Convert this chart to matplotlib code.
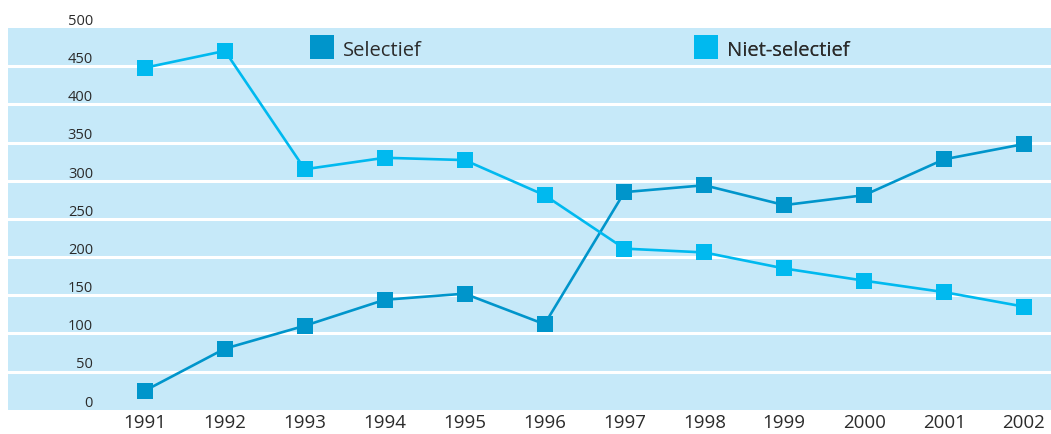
import matplotlib
matplotlib.use("Agg")
import matplotlib.pyplot as plt
from matplotlib.lines import Line2D

years = list(range(1991, 2003))
selectief = [25, 80, 110, 144, 152, 112, 285, 294, 268, 281, 328, 348]
niet_selectief = [448, 470, 315, 330, 327, 281, 211, 206, 185, 169, 154, 135]
y_ticks = [0, 50, 100, 150, 200, 250, 300, 350, 400, 450, 500]
series_names = ["Selectief", "Niet-selectief"]

BAND = "#c6e9f9"
DARK = "#0095cb"
LIGHT = "#00b9ef"
TEXT = "#2b2b2b"

plt.rcParams["font.family"] = ["Open Sans", "DejaVu Sans"]

W, H = 1051, 435
TOP, BOT = 29, 410.7
fig = plt.figure(figsize=(W / 100, H / 100), dpi=100)
ax = fig.add_axes([8 / W, (H - BOT) / H, (W - 8) / W, (BOT - TOP) / H])
ax.set_facecolor(BAND)
for s in ax.spines.values():
    s.set_visible(False)
ax.set_ylim(0, 500)
ax.set_xlim(1991 - 137 / 79.9, 2002 + 27 / 79.9)

for v in y_ticks[1:-1]:
    ax.axhline(v, color="white", lw=2.2, zorder=1)

ax.plot(years, selectief, color=DARK, lw=1.9, marker="s", ms=11.5,
        markeredgewidth=0, zorder=3)
ax.plot(years, niet_selectief, color=LIGHT, lw=1.9, marker="s", ms=11.5,
        markeredgewidth=0, zorder=3)

ax.set_xticks(years)
ax.set_xticklabels([str(y) for y in years], fontsize=13.5, color=TEXT)
ax.tick_params(axis="x", length=0, pad=2.5)
ax.set_yticks([])

# y labels sit inside the band, just above their gridline
lab_x = 1991 - 137 / 79.9 + (93 - 8) / 79.9
for v in y_ticks:
    ax.annotate(str(v), (lab_x, v), xytext=(0, 5.5), textcoords="offset points",
                ha="right", va="center", fontsize=10.5, color=TEXT,
                annotation_clip=False)

handles = [Line2D([], [], ls="none", marker="s", ms=17.5, color=c, markeredgewidth=0)
           for c in (DARK, LIGHT)]
leg_y = 1 - (50.5 - TOP) / (BOT - TOP)
for i, x0 in enumerate((310, 694)):
    leg = ax.legend(handles[i:i + 1], series_names[i:i + 1], loc="center left",
                    bbox_to_anchor=((x0 - 8) / (W - 8), leg_y),
                    frameon=False, fontsize=14.5, handletextpad=0.43,
                    borderpad=0, borderaxespad=0, handlelength=1.2,
                    labelcolor=TEXT)
    ax.add_artist(leg)

fig.savefig("out.png", dpi=100, facecolor="white")
